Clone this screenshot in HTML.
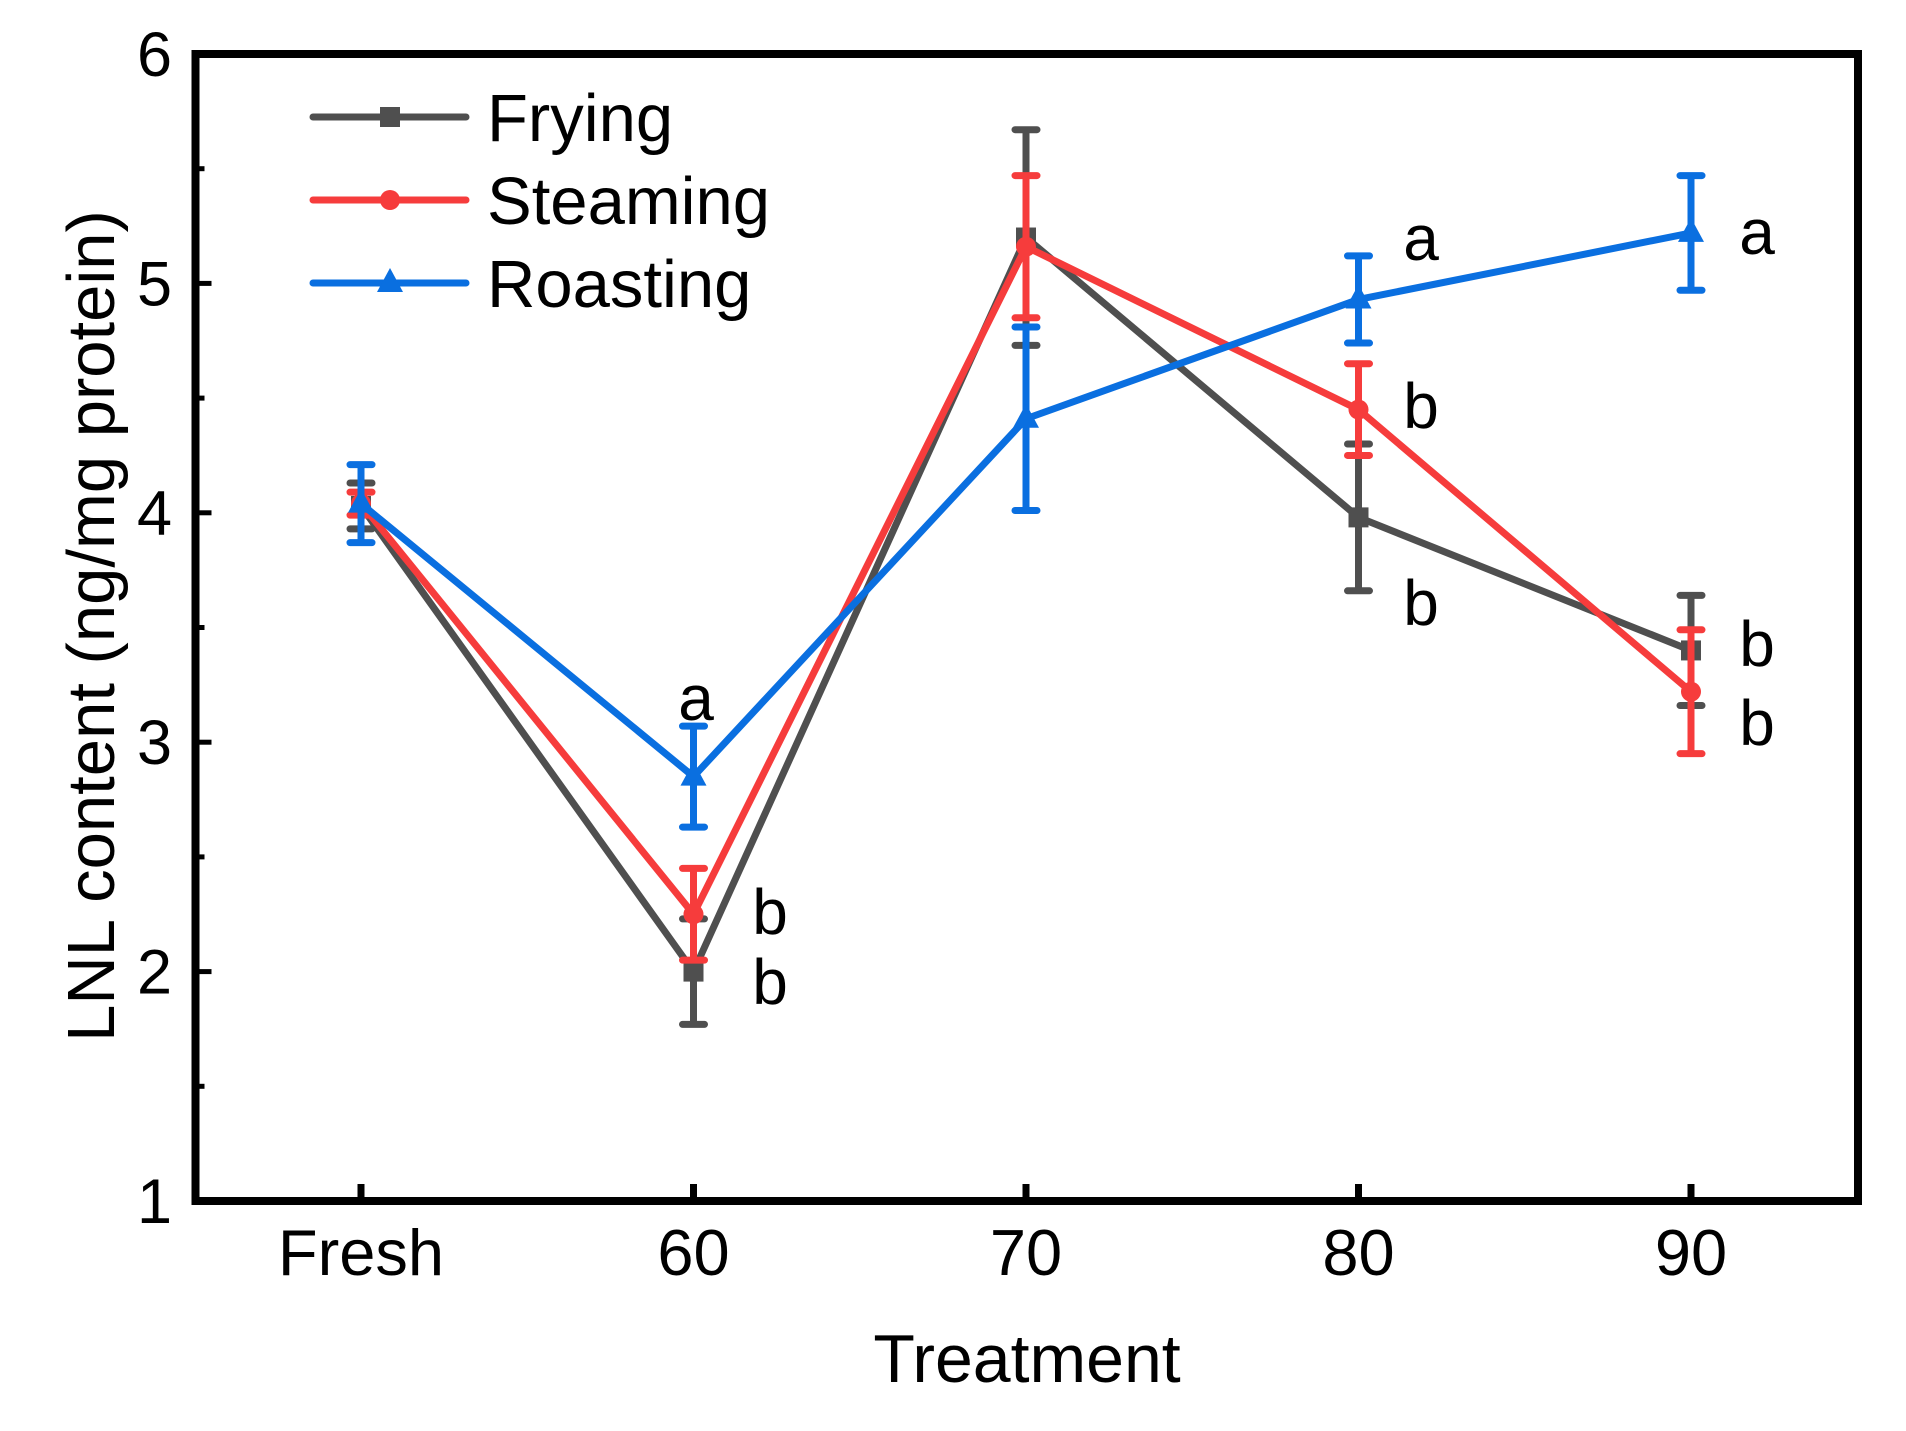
<!DOCTYPE html>
<html><head><meta charset="utf-8"><style>
html,body{margin:0;padding:0;background:#fff}
svg{display:block}
text{font-family:"Liberation Sans",Arial,sans-serif;fill:#000}
</style></head><body>
<svg id="chart" width="1906" height="1431" viewBox="0 0 1906 1431"></svg>
<script>
const categories=["Fresh","60","70","80","90"];
const fryingMean=[4.03,2.0,5.2,3.98,3.4];
const fryingErr=[0.1,0.23,0.47,0.32,0.24];
const steamingMean=[4.04,2.25,5.16,4.45,3.22];
const steamingErr=[0.05,0.2,0.31,0.2,0.27];
const roastingMean=[4.04,2.85,4.41,4.93,5.22];
const roastingErr=[0.17,0.22,0.4,0.19,0.25];
const yTicks=[1,2,3,4,5,6];
const fryingLetters=["","b","","b","b"];
const steamingLetters=["","b","","b","b"];
const roastingLetters=["","a","","a","a"];

const NS="http://www.w3.org/2000/svg";
const svg=document.getElementById('chart');
const L=195.5,R=1858,T=54,B=1201,Y0=1,Y1=6;
function xs(i){return 361+i*332.5;}
function ys(v){return B-(v-Y0)/(Y1-Y0)*(B-T);}
function mk(tag,attrs,parent){const e=document.createElementNS(NS,tag);for(const k in attrs)e.setAttribute(k,attrs[k]);(parent||svg).appendChild(e);return e;}

const frame=mk('rect',{x:L,y:T,width:R-L,height:B-T,fill:'none',stroke:'#000','stroke-width':8});


yTicks.forEach(v=>{
  const t=mk('line',{x1:L,x2:L+16,y1:ys(v),y2:ys(v),stroke:'#000','stroke-width':5});
  
  
  const lb=mk('text',{x:172,y:ys(v)+22,'font-size':63,'text-anchor':'end'});
  lb.textContent=v;
  
  
  if(v<Y1){
    const m=mk('line',{x1:L,x2:L+9,y1:ys(v+0.5),y2:ys(v+0.5),stroke:'#000','stroke-width':5});
    
    
  }
});
categories.forEach((c,i)=>{
  const t=mk('line',{x1:xs(i),x2:xs(i),y1:B,y2:B-17,stroke:'#000','stroke-width':7});
  
  
  const lb=mk('text',{x:xs(i),y:1275,'font-size':65,'text-anchor':'middle'});
  lb.textContent=c;
  
  
});
const xt=mk('text',{x:1027,y:1382,'font-size':68,'text-anchor':'middle'});
xt.textContent='Treatment';


const yt=mk('text',{x:0,y:0,'font-size':67,'text-anchor':'middle',transform:'translate(114,626) rotate(-90)'});
yt.textContent='LNL content (ng/mg protein)';



function marker(type,x,y,color,g){
  let e;
  if(type==='square')e=mk('rect',{x:x-10,y:y-10,width:20,height:20,fill:color},g);
  else if(type==='circle')e=mk('circle',{cx:x,cy:y,r:10,fill:color},g);
  else e=mk('polygon',{points:`${x},${y-15} ${x-13},${y+9} ${x+13},${y+9}`,fill:color},g);
  return e;
}
const series=[
  {name:'frying',mean:fryingMean,err:fryingErr,color:'#4f4f4f',m:'square',letters:fryingLetters},
  {name:'steaming',mean:steamingMean,err:steamingErr,color:'#f63c3c',m:'circle',letters:steamingLetters},
  {name:'roasting',mean:roastingMean,err:roastingErr,color:'#0a6fe0',m:'triangle',letters:roastingLetters}
];
series.forEach(s=>{
  const g=mk('g',{});
  
  
  const pts=s.mean.map((v,i)=>xs(i)+','+ys(v)).join(' ');
  const pl=mk('polyline',{points:pts,fill:'none',stroke:s.color,'stroke-width':7,'stroke-linejoin':'round'},g);
  
  
  s.mean.forEach((v,i)=>{
    const x=xs(i),hi=ys(v+s.err[i]),lo=ys(v-s.err[i]);
    const eb=mk('path',{d:`M${x},${hi}V${lo}M${x-11},${hi}H${x+11}M${x-11},${lo}H${x+11}`,stroke:s.color,'stroke-width':7,'stroke-linecap':'round',fill:'none'},g);
    
    
    const p=marker(s.m,x,ys(v),s.color,g);
    
    
  });
});
const letterPos=[
  [[1,770,1002],[3,1421,623],[4,1757,664]],
  [[1,770,932],[3,1421,426],[4,1757,743]],
  [[1,696,718],[3,1421,258],[4,1757,252]]
];
series.forEach((s,si)=>{
  letterPos[si].forEach(([i,x,y])=>{
    const t=mk('text',{x:x,y:y+2,'font-size':64,'text-anchor':'middle'});
    t.textContent=s.letters[i];
    
    
  });
});
const lg=mk('g',{});


const legY=[117,200,283],legLabels=['Frying','Steaming','Roasting'];
series.forEach((s,i)=>{
  const e=mk('g',{},lg);
  
  
  mk('line',{x1:313,x2:466,y1:legY[i],y2:legY[i],stroke:s.color,'stroke-width':7,'stroke-linecap':'round'},e);
  marker(s.m,390,legY[i],s.color,e);
  const t=mk('text',{x:487,y:legY[i]+24,'font-size':67},e);
  t.textContent=legLabels[i];
});
</script>
</body></html>
